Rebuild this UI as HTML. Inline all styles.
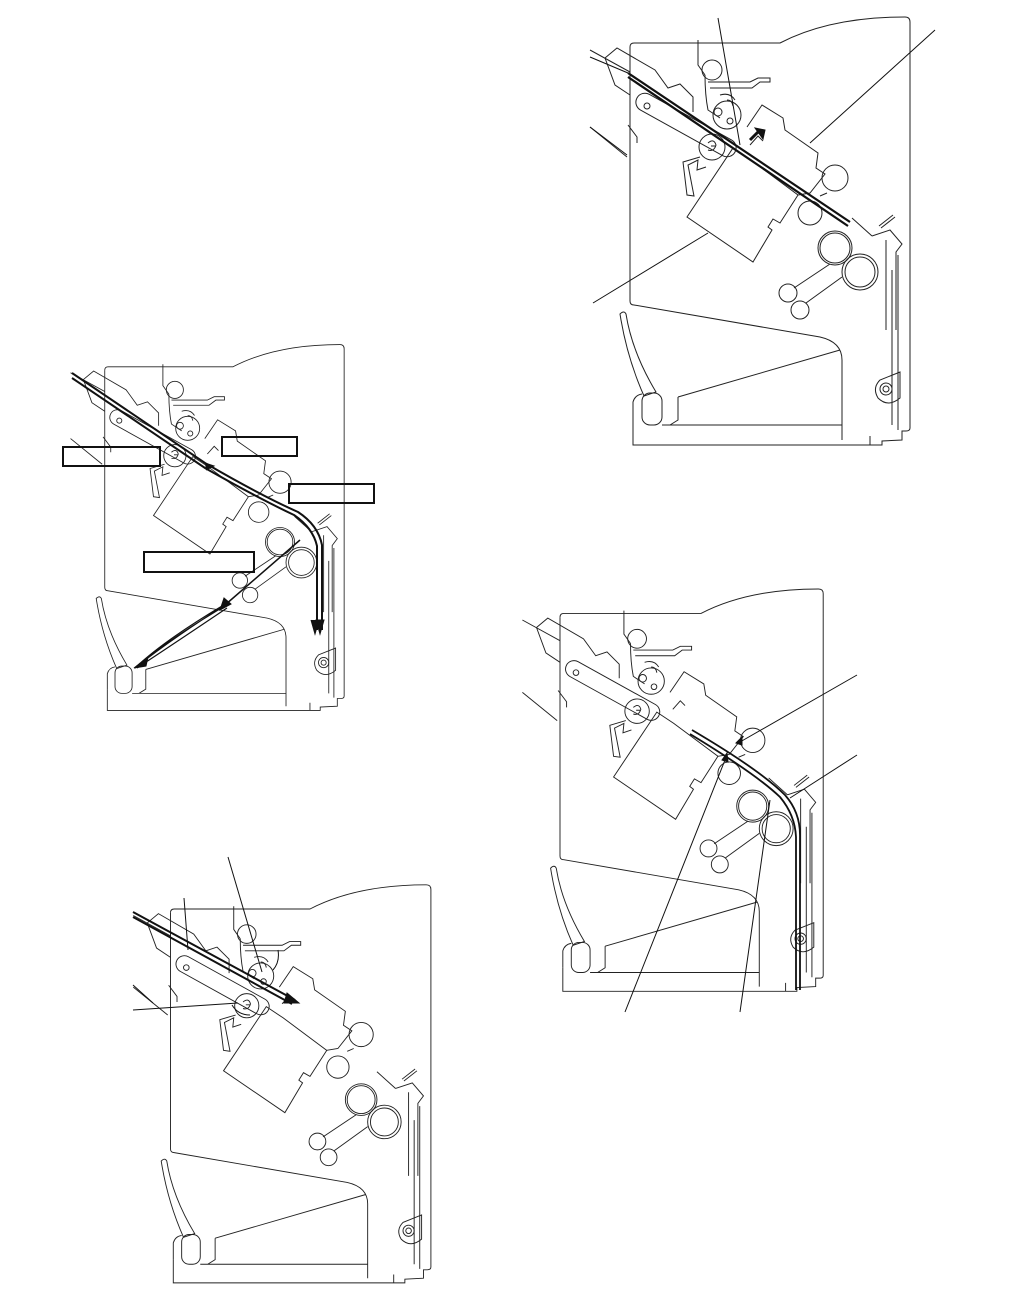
<!DOCTYPE html>
<html><head><meta charset="utf-8"><style>html,body{margin:0;padding:0;background:#fff}svg{display:block}</style></head>
<body>
<svg width="1020" height="1290" viewBox="0 0 1020 1290" xmlns="http://www.w3.org/2000/svg">
<defs>
<g id="m" fill="none" stroke="#222" stroke-width="1">
<path d="M50,47 Q50,43 54,43 L200,43 Q250,17 325,17 Q330,17 330,22 L330,428 Q330,431 326,431 L322,431 L322,440 L302,441 L302,445 L53,445 L53,420"/>
<path d="M50,47 L50,301 Q50,305 54,305 L240,337 Q262,342 262,360 L262,440"/>
<path d="M98,397 L260,350"/>
<path d="M82,425 L262,425 M98,397 L98,420 L90,425"/>
<path d="M40,314 Q44,310 46,314 Q52,352 76,392 L64,396 Q48,360 41,320 Z"/>
<rect x="62" y="393" width="20" height="32" rx="8"/>
<path d="M53,420 L53,402 Q55,395 62,394"/>
<path d="M312,270 L312,425 M318,255 L318,430 M290,436 L290,445"/>
<path d="M292,236 L310,230 L322,244 L316,252 L316,330 M306,240 L306,330"/>
<path d="M300,380 Q292,388 298,398 Q308,408 320,398 L320,372 Z"/>
<circle cx="306" cy="389" r="6"/><circle cx="306" cy="389" r="3"/>
<path d="M299,226 L313,215 M301,228 L315,217"/>
<path d="M25,58 L37,48 L75,70 L88,88 L100,84 L113,97 L113,112 M25,58 L35,85 L50,95"/>
<path d="M10,50 L50,72 M10,127 L47,157 M48,125 L57,137 L57,143"/>
<rect x="50" y="116" width="112" height="18" rx="9" transform="rotate(29 106 125)"/>
<circle cx="67" cy="106" r="3"/>
<circle cx="132" cy="147" r="13"/>
<path d="M128,143 Q134,138 136,145 Q134,152 128,150 M131,146 L136,146"/>
<path d="M120,157 L103,162 L107,195 L114,196 L108,165 L118,160 L117,170 L126,167"/>
<path d="M118,40 L118,65 L125,75 M125,75 Q125,95 128,110 L140,118"/>
<circle cx="132" cy="70" r="10"/>
<path d="M128,82 L170,82 L178,78 L190,78 L190,82 L180,82 L172,88 L130,88"/>
<circle cx="147" cy="115" r="14"/><circle cx="138" cy="112" r="4"/><circle cx="150" cy="121" r="3"/>
<path d="M140,95 Q150,92 155,100 M147,100 Q152,100 153,106"/>
<path d="M107,217 L153,148 L171,160 L218,195 L200,223 L193,219 L188,227 L192,230 L173,262 Z"/>
<path d="M167,127 L182,105 L203,118 L205,130 L238,153 L236,168 L245,174 L230,193 L218,195"/>
<path d="M170,145 L178,136 L183,141"/>
<circle cx="255" cy="178" r="13"/><circle cx="230" cy="213" r="12"/>
<circle cx="255" cy="248" r="17"/><circle cx="255" cy="248" r="15"/>
<circle cx="280" cy="272" r="18"/><circle cx="280" cy="272" r="15"/>
<circle cx="208" cy="293" r="9"/><circle cx="220" cy="310" r="9"/>
<path d="M250,264 L214,288 M262,277 L226,303"/>
<path d="M240,196 L247,193 M272,218 L292,236"/>
</g>
</defs>
<use href="#m" transform="translate(580,0)"/>
<use href="#m" transform="translate(62,330) scale(0.855)"/>
<use href="#m" transform="translate(124,869) scale(0.93)"/>
<use href="#m" transform="translate(513,573) scale(0.94)"/>
<g fill="none" stroke="#111" stroke-width="1">
<!-- top right -->
<path d="M628,73 L850,222 M628,77 L848,226" stroke-width="2.2"/>
<path d="M718,18 L740,145 M935,30 L810,143 M590,57 L628,73 M590,127 L627,155 M593,303 L708,233"/>
<path d="M750,140 L760,130" stroke-width="3"/>
<path d="M755,128 L765,130 L763,139 Z" fill="#111"/>
<!-- mid left -->
<path d="M72,373 L205,463 Q260,495 298,512 Q318,525 322,545 L322,630 M72,378 L205,468 Q258,498 294,515 Q313,528 317,546 L317,630" stroke-width="2"/>
<path d="M316,620 L320,634 L324,620 Z M311,620 L315,634 L319,620" fill="#111"/>
<path d="M300,540 L225,605" stroke-width="1.5"/>
<path d="M224,598 L220,610 L231,604 Z" fill="#111"/>
<path d="M225,605 Q170,640 135,668 M227,608 Q172,645 137,668 M230,603 Q175,635 137,666 M222,606 Q165,640 136,667" stroke-width="1.2"/>
<path d="M134,668 L148,657 L146,666 Z" fill="#111"/>
<path d="M205,463 L214,466 L206,470" fill="#111"/>
<g stroke-width="2"><rect x="63" y="447" width="97" height="19"/><rect x="222" y="437" width="75" height="19"/><rect x="289" y="484" width="85" height="19"/><rect x="144" y="552" width="110" height="20"/></g>
<!-- bottom left -->
<path d="M133,912 L295,1000 M133,917 L292,1004" stroke-width="2"/>
<path d="M287,993 L299,1003 L284,1003 Z" fill="#111"/>
<path d="M228,857 L262,972 M184,898 L188,950 M133,1010 L238,1003 M133,985 L153,1003"/>
<path d="M273,970 Q280,962 278,950 M250,1015 Q238,1015 232,1005"/>
<!-- bottom right -->
<path d="M692,730 Q760,770 785,795 Q800,812 800,835 L800,990 M690,734 Q756,774 780,797 Q795,815 796,837 L796,990" stroke-width="1.8"/>
<path d="M857,675 L740,742 M857,755 L790,798 M625,1012 L725,760 M740,1012 L770,800"/>
<path d="M736,743 L742,737 L742,745 Z M722,760 L727,753 L728,762 Z" fill="#111"/>
</g>
</svg>
</body></html>
